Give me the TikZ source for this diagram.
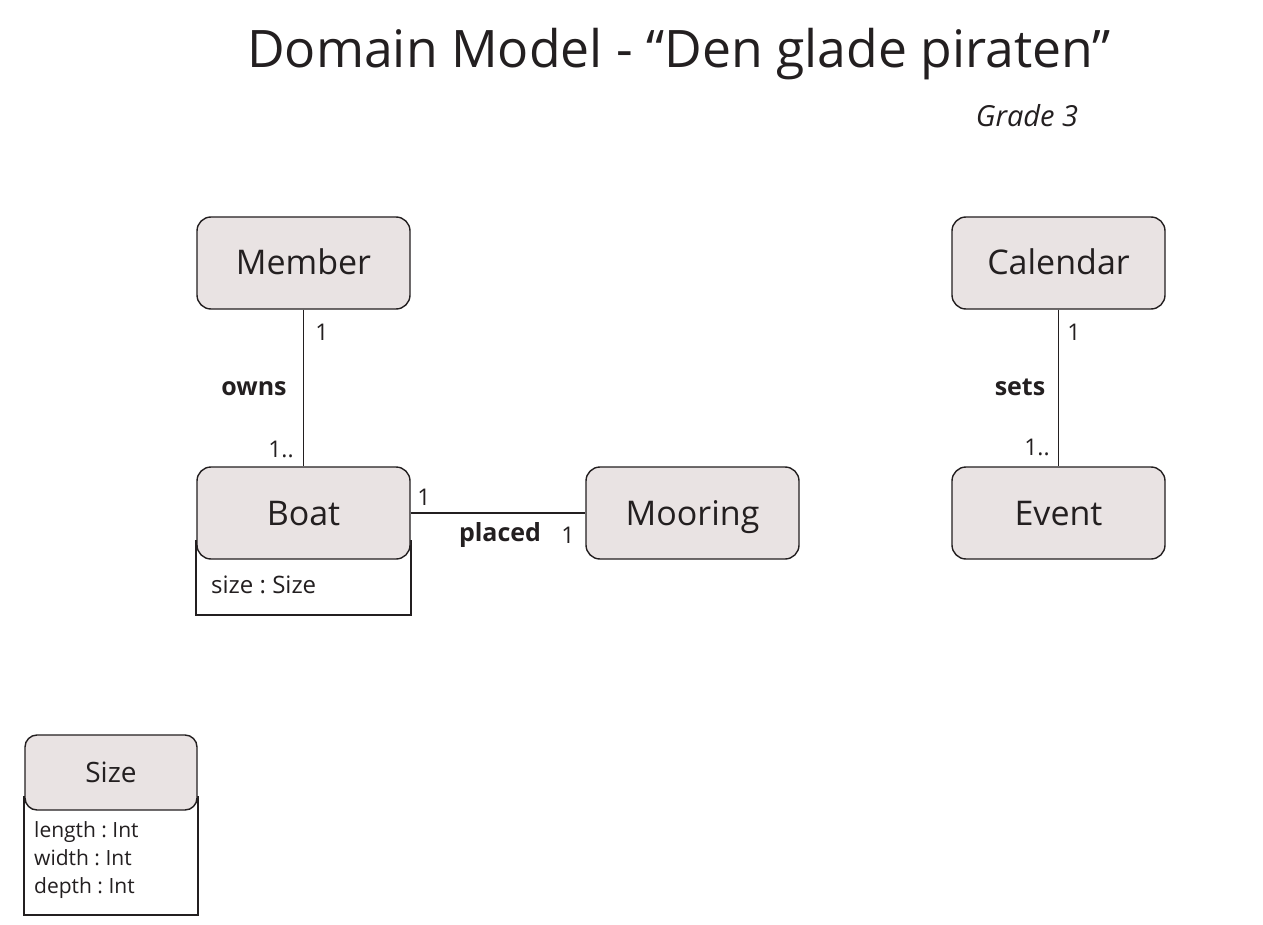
\documentclass[tikz,border=0pt]{standalone}
\usepackage{fontspec}
\setmainfont{Open Sans}
\usetikzlibrary{backgrounds,calc}
\definecolor{ink}{HTML}{231F20}
\definecolor{boxfill}{HTML}{E9E3E3}
\tikzset{
  cls/.style={draw=ink, fill=boxfill, rounded corners=14pt, minimum width=213pt,
    minimum height=92pt, line width=1.4pt, inner sep=0pt, text=ink,
    text height=30pt, text depth=6pt,
    font=\fontsize{34}{40}\selectfont},
  smallcls/.style={cls, rounded corners=12pt, minimum width=172pt, minimum height=75pt,
    text height=25pt, text depth=5pt,
    font=\fontsize{28}{32}\selectfont},
  attrbox/.style={draw=ink, line width=1.9pt},
  conn/.style={draw=ink, line width=1.9pt},
  mult/.style={text=ink, inner sep=0pt, font=\fontsize{23}{26}\selectfont},
  role/.style={text=ink, inner sep=0pt, font=\fontsize{25}{28}\selectfont\bfseries},
  attr/.style={text=ink, inner sep=0pt, anchor=base west, font=\fontsize{24}{28}\selectfont},
  sattr/.style={text=ink, inner sep=0pt, anchor=base west, font=\fontsize{21}{24}\selectfont},
}
\begin{document}
\frenchspacing
\begin{tikzpicture}[x=1pt,y=-1pt]
\useasboundingbox (0,0) rectangle (1263,925);

\node[text=ink, inner sep=0pt, anchor=base, font=\fontsize{51.7}{60}\selectfont] (title) at (679,68) {Domain Model - “Den glade piraten”};
\node[text=ink, inner sep=0pt, anchor=base, font=\fontsize{29}{34}\selectfont\itshape] (grade) at (1027,127) {Grade 3};

\node[cls] (member) at (303.5,263) {Member};
\node[cls] (calendar) at (1058.5,263) {Calendar};
\node[cls] (boat) at (303.5,513) {Boat};
\node[cls] (mooring) at (692.5,513) {Mooring};
\node[cls] (event) at (1058.5,513) {Event};
\node[smallcls] (size) at (111,772.5) {Size};

\begin{pgfonlayer}{background}
  \fill[white] (0,0) rectangle (1263,925);
  \draw[attrbox] ($(boat.south west)+(0,-20)$) -- ($(boat.south west)+(0,55)$) coordinate (boatbl) -- ($(boat.south east)+(0,55)$) coordinate (boatbr) -- ($(boat.south east)+(0,-20)$);
  \draw[attrbox] ($(size.south west)+(0,-15)$) -- ($(size.south west)+(0,104)$) coordinate (sizebl) -- ($(size.south east)+(0,104)$) coordinate (sizebr) -- ($(size.south east)+(0,-15)$);
\end{pgfonlayer}

\node[attr] (boatattr) at (211,593) {size : Size};
\node[sattr] (slength) at (34,837) {length : Int};
\node[sattr] (swidth) at (34,865) {width : Int};
\node[sattr] (sdepth) at (34,893) {depth : Int};

\draw[conn] (member) -- (boat);
\draw[conn] (calendar) -- (event);
\draw[conn] (boat) -- (mooring);

\node[mult] (m1) at (322,332) {1};
\node[role] (owns) at (254,389) {owns};
\node[mult] (m2) at (281,449) {1..};
\node[mult] (m3) at (424,497) {1};
\node[role] (placed) at (500,535) {placed};
\node[mult] (m4) at (568,535) {1};
\node[mult] (m5) at (1074,332) {1};
\node[role] (sets) at (1020,387) {sets};
\node[mult] (m6) at (1037,447) {1..};
\end{tikzpicture}
\end{document}
